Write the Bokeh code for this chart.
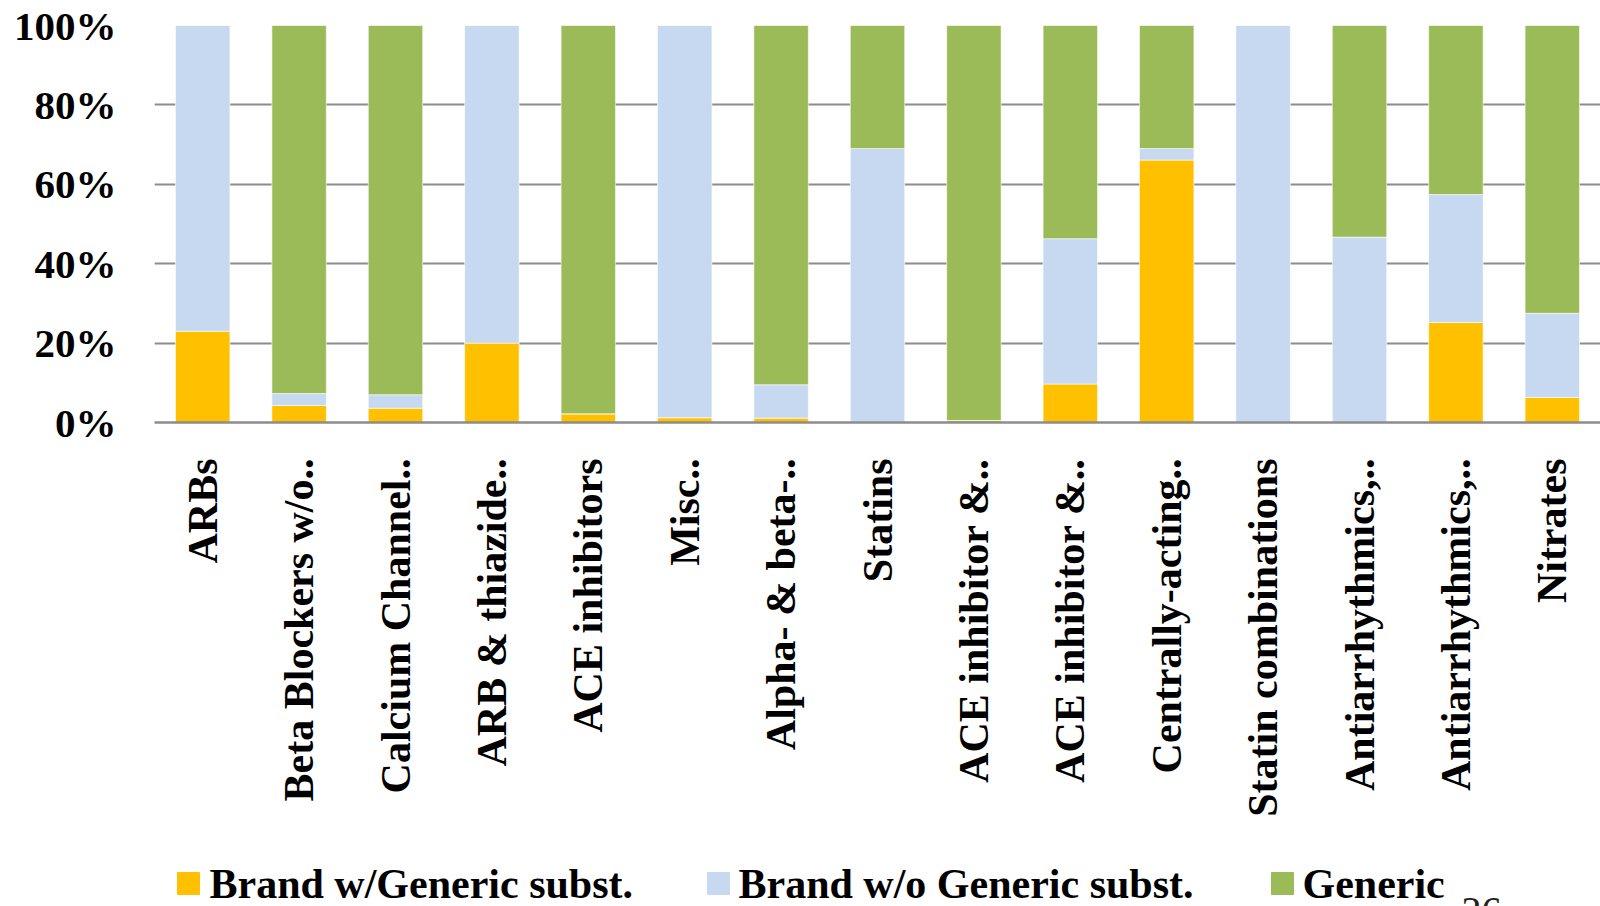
import math
from bokeh.plotting import figure
from bokeh.layouts import column
from bokeh.models import Range1d, FixedTicker, PrintfTickFormatter, ColumnDataSource
from bokeh.core.properties import value
from bokeh.embed import file_html
from bokeh.resources import INLINE

categories = ["ARBs", "Beta Blockers w/o..", "Calcium Channel..", "ARB & thiazide..",
              "ACE inhibitors", "Misc..", "Alpha- & beta-..", "Statins",
              "ACE inhibitor &..", "ACE inhibitor &..", "Centrally-acting..",
              "Statin combinations", "Antiarrhythmics,..", "Antiarrhythmics,..", "Nitrates"]
brand_with_generic = [23.0, 4.3, 3.6, 20.0, 2.2, 1.2, 1.1, 0.0, 0.5, 9.7, 66.1, 0.0, 0.0, 25.2, 6.3]
brand_without_generic = [77.0, 3.0, 3.4, 80.0, 0.0, 98.8, 8.4, 69.0, 0.0, 36.6, 2.9, 100.0, 46.7, 32.2, 21.2]
generic = [0.0, 92.7, 93.0, 0.0, 97.8, 0.0, 90.5, 31.0, 99.5, 53.7, 31.0, 0.0, 53.3, 42.6, 72.5]
series_names = ["Brand w/Generic subst.", "Brand w/o Generic subst.", "Generic"]
series_colors = ["#FFC000", "#C6D9F1", "#9BBB59"]
y_ticks = [0, 20, 40, 60, 80, 100]
page_number = "26"

FONT = "Liberation Serif"
x = list(range(len(categories)))
src = ColumnDataSource(dict(x=x, a=brand_with_generic, b=brand_without_generic, c=generic))

p = figure(width=1600, height=840, output_backend="svg", toolbar_location=None,
           x_range=Range1d(-0.5, 14.5), y_range=Range1d(0, 100),
           min_border_left=154, min_border_right=0, min_border_top=25, min_border_bottom=418)
p.outline_line_color = None
p.background_fill_color = "white"
p.border_fill_color = "white"

p.vbar_stack(["a", "b", "c"], x="x", width=0.565, source=src, color=series_colors,
             line_color="white", line_width=0.6)

p.xgrid.grid_line_color = None
p.ygrid.grid_line_color = "#8C8C8C"
p.ygrid.grid_line_width = 2
p.ygrid.ticker = FixedTicker(ticks=y_ticks)

p.yaxis.ticker = FixedTicker(ticks=y_ticks)
p.yaxis.formatter = PrintfTickFormatter(format="%d%%")
p.yaxis.axis_line_color = None
p.yaxis.major_tick_line_color = None
p.yaxis.minor_tick_line_color = None
p.yaxis.major_tick_out = 0
p.yaxis.major_label_standoff = 38
p.yaxis.major_label_text_font = FONT
p.yaxis.major_label_text_font_style = "bold"
p.yaxis.major_label_text_font_size = "41px"
p.yaxis.major_label_text_color = "black"

p.xaxis.ticker = FixedTicker(ticks=x)
p.xaxis.major_label_overrides = {i: c for i, c in zip(x, categories)}
p.xaxis.major_label_orientation = math.pi / 2
p.xaxis.axis_line_color = "#8C8C8C"
p.xaxis.axis_line_width = 2.5
p.xaxis.major_tick_line_color = None
p.xaxis.minor_tick_line_color = None
p.xaxis.major_tick_out = 0
p.xaxis.major_label_standoff = 36
p.xaxis.major_label_text_font = FONT
p.xaxis.major_label_text_font_style = "bold"
p.xaxis.major_label_text_font_size = "42px"
p.xaxis.major_label_text_color = "black"

# legend strip (its frame is aligned with the chart frame: x from 154 to 1600 px)
lg = figure(width=1600, height=66, output_backend="svg", toolbar_location=None,
            x_range=Range1d(154, 1600), y_range=Range1d(0, 66),
            min_border_left=154, min_border_right=0, min_border_top=0, min_border_bottom=0)
lg.axis.visible = False
lg.grid.visible = False
lg.outline_line_color = None
lg.background_fill_color = "white"
lg.border_fill_color = "white"
sq_x = [188, 718, 1282]
tx_x = [209, 738, 1302]
lg.rect(x=sq_x, y=[23, 23, 23], width=22, height=22, color=series_colors)
lg.text(x=tx_x, y=[23, 23, 23], text=series_names, text_font=value(FONT),
        text_font_style="bold", text_font_size="42px", text_baseline="middle",
        text_align="left", text_color="black")
# slide page number, mostly below the picture's lower edge
lg.text(x=[1461], y=[-4], text=[page_number], text_font=value(FONT),
        text_font_size="40px", text_baseline="middle", text_align="left",
        text_color="#222222")

layout = column(p, lg, spacing=0)
open("out.html", "w").write(file_html(layout, INLINE))
